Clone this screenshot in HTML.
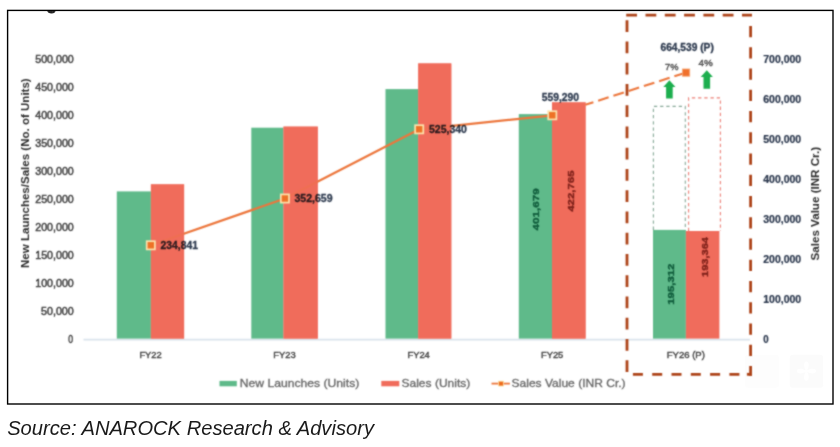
<!DOCTYPE html>
<html lang="en">
<head>
<meta charset="utf-8">
<title>New Launches, Sales and Sales Value</title>
<style>
html,body{margin:0;padding:0;background:#fff;}
body{width:840px;height:447px;overflow:hidden;position:relative;font-family:"Liberation Sans",Arial,sans-serif;}
svg{position:absolute;left:0;top:0;display:block;}
svg text{font-family:"Liberation Sans",Arial,sans-serif;}
.source{position:absolute;left:7.2px;top:415.7px;font-size:20.15px;line-height:24px;font-style:italic;color:#1a1a1a;white-space:nowrap;}
</style>
</head>
<body>
<svg width="840" height="447" viewBox="0 0 840 447">
<defs><filter id="soft" x="0" y="0" width="840" height="447" filterUnits="userSpaceOnUse" color-interpolation-filters="sRGB"><feConvolveMatrix order="3" kernelMatrix="0.05 0.1 0.05 0.1 0.4 0.1 0.05 0.1 0.05" divisor="1" edgeMode="duplicate" preserveAlpha="false"/></filter></defs>
<rect x="7.6" y="10.4" width="825.4" height="393.6" fill="#fff" stroke="#000" stroke-width="1.4"/>
<rect x="745" y="354.7" width="33.8" height="33" rx="3" fill="#fdfdfd"/>
<rect x="789.8" y="354.7" width="33.3" height="33" rx="3" fill="#fbfbfb"/>
<path d="M806.4 361.5 c3 0 3 5 0.6 9 c4 -2.4 9 -2.4 9 0.6 c0 3 -5 3 -9 0.6 c2.4 4 2.4 9 -0.6 9 c-3 0 -3 -5 -0.6 -9 c-4 2.4 -9 2.4 -9 -0.6 c0 -3 5 -3 9 -0.6 c-2.4 -4 -2.4 -9 0.6 -9 Z" fill="#fff"/>
<clipPath id="tc"><rect x="40" y="11" width="30" height="4"/></clipPath>
<text x="46.8" y="9.9" font-size="16" font-weight="700" fill="#222" stroke="#222" stroke-width="1" clip-path="url(#tc)">g</text>
<g filter="url(#soft)">
<line x1="83.5" y1="339.6" x2="750" y2="339.6" stroke="#d9e3ec" stroke-width="1.6"/>
<rect x="116.8" y="191.4" width="34.1" height="147.2" fill="#5fba8a"/>
<rect x="150.9" y="184.3" width="33.2" height="154.3" fill="#f06c5c"/>
<rect x="251.3" y="127.7" width="32.2" height="210.9" fill="#5fba8a"/>
<rect x="283.5" y="126.6" width="34.3" height="212.0" fill="#f06c5c"/>
<rect x="385.5" y="89.1" width="32.7" height="249.5" fill="#5fba8a"/>
<rect x="418.2" y="63.4" width="33.1" height="275.2" fill="#f06c5c"/>
<rect x="518.8" y="114.1" width="33.2" height="224.5" fill="#5fba8a"/>
<rect x="552.0" y="102.3" width="33.6" height="236.3" fill="#f06c5c"/>
<rect x="653.0" y="229.9" width="32.9" height="108.7" fill="#5fba8a"/>
<rect x="685.9" y="231.0" width="33.5" height="107.6" fill="#f06c5c"/>
<path d="M653.4 229.9 V106.4 H685.3 V229.9" fill="none" stroke="#86a897" stroke-width="1.1" stroke-dasharray="3.3 2.9"/>
<path d="M688.6 231 V97.9 H720.4 V231" fill="none" stroke="#ec7f76" stroke-width="1.1" stroke-dasharray="3.3 2.9"/>
<path d="M150.8 245.3 L284.9 198.5 L419.2 129.3 L552.3 115.3" fill="none" stroke="#ec763c" stroke-width="2.2" stroke-linejoin="round"/>
<path d="M585.3 104.8 L686.1 72.6" fill="none" stroke="#ec763c" stroke-width="2.1" stroke-dasharray="11 5" stroke-dashoffset="2.5"/>
<rect x="150.9" y="184.3" width="33.2" height="154.3" fill="#f06c5c" opacity="0.72"/>
<rect x="283.5" y="126.6" width="34.3" height="212.0" fill="#f06c5c" opacity="0.72"/>
<rect x="418.2" y="63.4" width="33.1" height="275.2" fill="#f06c5c" opacity="0.72"/>
<rect x="552.0" y="102.3" width="33.6" height="236.3" fill="#f06c5c" opacity="0.72"/>
<rect x="146.7" y="241.2" width="8.2" height="8.2" fill="#ee7226" stroke="#fce4ae" stroke-width="1.7"/>
<rect x="280.8" y="194.4" width="8.2" height="8.2" fill="#ee7226" stroke="#fce4ae" stroke-width="1.7"/>
<rect x="415.1" y="125.2" width="8.2" height="8.2" fill="#ee7226" stroke="#fce4ae" stroke-width="1.7"/>
<rect x="548.2" y="111.2" width="8.2" height="8.2" fill="#ee7226" stroke="#fce4ae" stroke-width="1.7"/>
<rect x="682.5" y="69.0" width="7.2" height="7.2" fill="#f0702c" stroke="#f6a470" stroke-width="0.8"/>
<line x1="626.2" y1="15.2" x2="752" y2="15.2" stroke="#ad4318" stroke-width="2.8" stroke-dasharray="10.8 8.5"/>
<line x1="632.9" y1="374.3" x2="752" y2="374.3" stroke="#ad4318" stroke-width="2.8" stroke-dasharray="10 9.3"/>
<line x1="627" y1="20.2" x2="627" y2="374" stroke="#ad4318" stroke-width="2.8" stroke-dasharray="11.8 9.45"/>
<line x1="750.6" y1="26" x2="750.6" y2="375.6" stroke="#ad4318" stroke-width="2.8" stroke-dasharray="11.3 9.95"/>
<rect x="746.9" y="372.9" width="5.1" height="2.8" fill="#ad4318"/>
<path d="M669.4 80.2 L675.5 87.0 H672.7 V98.6 H666.1 V87.0 H663.3 Z" fill="#1cae4e"/>
<path d="M706.8 70.2 L712.9 77.0 H710.1 V88.7 H703.5 V77.0 H700.7 Z" fill="#1cae4e"/>
<text x="160.6" y="249.3" font-size="10.2" font-weight="700" fill="#2b384d" stroke="#2b384d" stroke-width="0.3" textLength="37.4" lengthAdjust="spacingAndGlyphs" style="mix-blend-mode:multiply">234,841</text>
<text x="294.5" y="202.3" font-size="10.2" font-weight="700" fill="#2b384d" stroke="#2b384d" stroke-width="0.3" textLength="38.1" lengthAdjust="spacingAndGlyphs" style="mix-blend-mode:multiply">352,659</text>
<text x="429.0" y="133.1" font-size="10.2" font-weight="700" fill="#2b384d" stroke="#2b384d" stroke-width="0.3" textLength="37.9" lengthAdjust="spacingAndGlyphs" style="mix-blend-mode:multiply">525,340</text>
<text x="541.7" y="101.4" font-size="10.2" font-weight="700" fill="#2b384d" stroke="#2b384d" stroke-width="0.3" textLength="37.3" lengthAdjust="spacingAndGlyphs" style="mix-blend-mode:multiply">559,290</text>
<text x="660.5" y="51.0" font-size="10.2" font-weight="700" fill="#2b384d" stroke="#2b384d" stroke-width="0.3" textLength="53.3" lengthAdjust="spacingAndGlyphs">664,539 (P)</text>
<text x="665.0" y="69.7" font-size="9.5" font-weight="400" fill="#505050" stroke="#505050" stroke-width="0.4" textLength="13.4" lengthAdjust="spacingAndGlyphs">7%</text>
<text x="698.6" y="66.4" font-size="9.5" font-weight="400" fill="#505050" stroke="#505050" stroke-width="0.4" textLength="14.3" lengthAdjust="spacingAndGlyphs">4%</text>
<text transform="translate(539.3 230.4) rotate(-90)" font-size="9.8" font-weight="700" fill="#0e5a3a" stroke="#0e5a3a" stroke-width="0.35" textLength="42.0" lengthAdjust="spacingAndGlyphs">401,679</text>
<text transform="translate(573.8 211.8) rotate(-90)" font-size="9.8" font-weight="700" fill="#7d2019" stroke="#7d2019" stroke-width="0.35" textLength="41.4" lengthAdjust="spacingAndGlyphs">422,765</text>
<text transform="translate(673.9 304.7) rotate(-90)" font-size="9.8" font-weight="700" fill="#0e5a3a" stroke="#0e5a3a" stroke-width="0.35" textLength="41.1" lengthAdjust="spacingAndGlyphs">195,312</text>
<text transform="translate(707.6 276.9) rotate(-90)" font-size="9.8" font-weight="700" fill="#7d2019" stroke="#7d2019" stroke-width="0.35" textLength="39.9" lengthAdjust="spacingAndGlyphs">193,364</text>
<text x="68.2" y="343.3" font-size="10.2" font-weight="400" fill="#404040" stroke="#404040" stroke-width="0.45" textLength="4.8" lengthAdjust="spacingAndGlyphs">0</text>
<text x="41.0" y="315.2" font-size="10.2" font-weight="400" fill="#404040" stroke="#404040" stroke-width="0.45" textLength="32.8" lengthAdjust="spacingAndGlyphs">50,000</text>
<text x="35.2" y="287.2" font-size="10.2" font-weight="400" fill="#404040" stroke="#404040" stroke-width="0.45" textLength="38.6" lengthAdjust="spacingAndGlyphs">100,000</text>
<text x="35.2" y="259.2" font-size="10.2" font-weight="400" fill="#404040" stroke="#404040" stroke-width="0.45" textLength="38.6" lengthAdjust="spacingAndGlyphs">150,000</text>
<text x="35.2" y="231.1" font-size="10.2" font-weight="400" fill="#404040" stroke="#404040" stroke-width="0.45" textLength="38.6" lengthAdjust="spacingAndGlyphs">200,000</text>
<text x="35.2" y="203.1" font-size="10.2" font-weight="400" fill="#404040" stroke="#404040" stroke-width="0.45" textLength="38.6" lengthAdjust="spacingAndGlyphs">250,000</text>
<text x="35.2" y="175.1" font-size="10.2" font-weight="400" fill="#404040" stroke="#404040" stroke-width="0.45" textLength="38.6" lengthAdjust="spacingAndGlyphs">300,000</text>
<text x="35.2" y="147.0" font-size="10.2" font-weight="400" fill="#404040" stroke="#404040" stroke-width="0.45" textLength="38.6" lengthAdjust="spacingAndGlyphs">350,000</text>
<text x="35.2" y="119.0" font-size="10.2" font-weight="400" fill="#404040" stroke="#404040" stroke-width="0.45" textLength="38.6" lengthAdjust="spacingAndGlyphs">400,000</text>
<text x="35.2" y="91.0" font-size="10.2" font-weight="400" fill="#404040" stroke="#404040" stroke-width="0.45" textLength="38.6" lengthAdjust="spacingAndGlyphs">450,000</text>
<text x="35.2" y="63.0" font-size="10.2" font-weight="400" fill="#404040" stroke="#404040" stroke-width="0.45" textLength="38.6" lengthAdjust="spacingAndGlyphs">500,000</text>
<text x="763.2" y="343.2" font-size="10.1" font-weight="700" fill="#27344a" stroke="#27344a" stroke-width="0.2" textLength="5.4" lengthAdjust="spacingAndGlyphs">0</text>
<text x="763.2" y="303.2" font-size="10.1" font-weight="700" fill="#27344a" stroke="#27344a" stroke-width="0.2" textLength="38.0" lengthAdjust="spacingAndGlyphs">100,000</text>
<text x="763.2" y="263.1" font-size="10.1" font-weight="700" fill="#27344a" stroke="#27344a" stroke-width="0.2" textLength="38.0" lengthAdjust="spacingAndGlyphs">200,000</text>
<text x="763.2" y="223.1" font-size="10.1" font-weight="700" fill="#27344a" stroke="#27344a" stroke-width="0.2" textLength="38.0" lengthAdjust="spacingAndGlyphs">300,000</text>
<text x="763.2" y="183.0" font-size="10.1" font-weight="700" fill="#27344a" stroke="#27344a" stroke-width="0.2" textLength="38.0" lengthAdjust="spacingAndGlyphs">400,000</text>
<text x="763.2" y="143.0" font-size="10.1" font-weight="700" fill="#27344a" stroke="#27344a" stroke-width="0.2" textLength="38.0" lengthAdjust="spacingAndGlyphs">500,000</text>
<text x="763.2" y="103.0" font-size="10.1" font-weight="700" fill="#27344a" stroke="#27344a" stroke-width="0.2" textLength="38.0" lengthAdjust="spacingAndGlyphs">600,000</text>
<text x="763.2" y="62.9" font-size="10.1" font-weight="700" fill="#27344a" stroke="#27344a" stroke-width="0.2" textLength="38.0" lengthAdjust="spacingAndGlyphs">700,000</text>
<text transform="translate(29.0 268.0) rotate(-90)" font-size="10" font-weight="700" fill="#2b2b2b" stroke="#2b2b2b" stroke-width="0" textLength="189.7" lengthAdjust="spacingAndGlyphs">New Launches/Sales (No. of Units)</text>
<text transform="translate(818.9 260.5) rotate(-90)" font-size="10" font-weight="700" fill="#2b2b2b" stroke="#2b2b2b" stroke-width="0" textLength="113.6" lengthAdjust="spacingAndGlyphs">Sales Value (INR Cr.)</text>
<text x="139.4" y="357.9" font-size="9.3" font-weight="400" fill="#444" stroke="#444" stroke-width="0.4" textLength="22.3" lengthAdjust="spacingAndGlyphs">FY22</text>
<text x="273.3" y="357.9" font-size="9.3" font-weight="400" fill="#444" stroke="#444" stroke-width="0.4" textLength="22.3" lengthAdjust="spacingAndGlyphs">FY23</text>
<text x="407.5" y="357.9" font-size="9.3" font-weight="400" fill="#444" stroke="#444" stroke-width="0.4" textLength="22.3" lengthAdjust="spacingAndGlyphs">FY24</text>
<text x="541.0" y="357.9" font-size="9.3" font-weight="400" fill="#444" stroke="#444" stroke-width="0.4" textLength="22.3" lengthAdjust="spacingAndGlyphs">FY25</text>
<text x="666.8" y="358.3" font-size="9.3" font-weight="400" fill="#444" stroke="#444" stroke-width="0.4" textLength="38.1" lengthAdjust="spacingAndGlyphs">FY26 (P)</text>
<rect x="219.5" y="380.9" width="17.3" height="5.4" fill="#5fba8a"/>
<text x="239.8" y="387.2" font-size="11" font-weight="400" fill="#666" stroke="#666" stroke-width="0.3" textLength="119.5" lengthAdjust="spacingAndGlyphs">New Launches (Units)</text>
<rect x="381.3" y="380.9" width="18" height="5.4" fill="#f06c5c"/>
<text x="401.5" y="387.2" font-size="11" font-weight="400" fill="#666" stroke="#666" stroke-width="0.3" textLength="68.8" lengthAdjust="spacingAndGlyphs">Sales (Units)</text>
<line x1="491.5" y1="383.6" x2="509.9" y2="383.6" stroke="#ec763c" stroke-width="1.8"/>
<rect x="498.6" y="381.2" width="4.8" height="4.8" fill="#ee6c1e" stroke="#fbe3a6" stroke-width="0.8"/>
<text x="511.5" y="387.2" font-size="11" font-weight="400" fill="#666" stroke="#666" stroke-width="0.3" textLength="114.1" lengthAdjust="spacingAndGlyphs">Sales Value (INR Cr.)</text>
</g>
</svg>
<div class="source">Source: ANAROCK Research &amp; Advisory</div>
</body>
</html>
